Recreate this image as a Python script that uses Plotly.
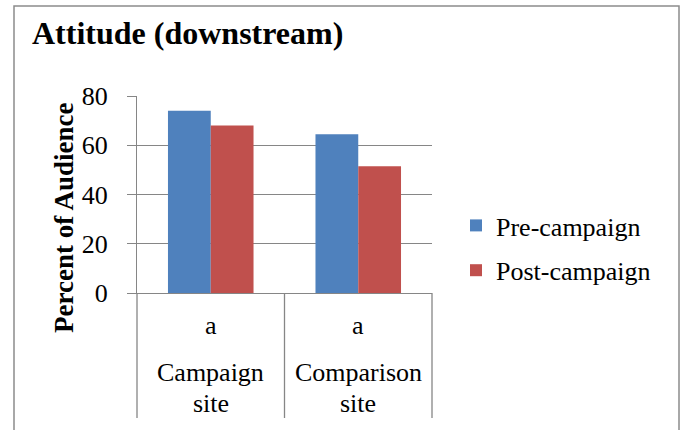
import plotly.graph_objects as go

# ---- data ----
categories = ["Campaign site", "Comparison site"]
sig_labels = ["a", "a"]
series_names = ["Pre-campaign", "Post-campaign"]
pre_values = [74, 64.5]
post_values = [68, 51.5]
y_ticks = [0, 20, 40, 60, 80]

# ---- layout geometry ----
W, H = 685, 430
L, R, T, B = 137, 253, 96, 137
PW, PH = W - L - R, H - T - B

def px_x(px):
    return (px - L) / PW

def px_y(py):
    return (H - B - py) / PH

FONT = "Liberation Serif"
BLUE = "#4F81BD"
RED = "#C0504D"
GRID = "#868686"

fig = go.Figure()
fig.add_trace(go.Bar(x=categories, y=pre_values, name=series_names[0],
                     marker=dict(color=BLUE, line=dict(width=0)),
                     legendgroup="g1"))
fig.add_trace(go.Bar(x=categories, y=post_values, name=series_names[1],
                     marker=dict(color=RED, line=dict(width=0)),
                     legendgroup="g2"))

fig.update_layout(
    width=W, height=H,
    margin=dict(l=L, r=R, t=T, b=B, pad=0),
    paper_bgcolor="white", plot_bgcolor="white",
    font=dict(family=FONT, size=26, color="black"),
    barmode="group", bargap=0.42, bargroupgap=0,
    showlegend=True,
    legend=dict(x=px_x(456), y=px_y(202), xanchor="left", yanchor="top",
                font=dict(family=FONT, size=26, color="black"),
                tracegroupgap=8, traceorder="grouped",
                bgcolor="rgba(0,0,0,0)"),
    title=dict(text="<b>Attitude (downstream)</b>",
               font=dict(family=FONT, size=32, color="black"),
               xref="container", yref="container",
               x=32 / W, xanchor="left", y=1 - 33 / H, yanchor="middle"),
)

fig.update_yaxes(range=[0, 80], tickvals=y_ticks, showgrid=True,
                 gridcolor=GRID, gridwidth=1.3,
                 showline=True, linecolor=GRID, linewidth=1.3,
                 ticks="outside", ticklen=9, tickcolor=GRID, tickwidth=1.3,
                 ticklabelstandoff=14,
                 tickfont=dict(family=FONT, size=26, color="black"),
                 zeroline=False, fixedrange=True)
fig.update_xaxes(showticklabels=False, showline=True, linecolor=GRID,
                 linewidth=1.3, ticks="", showgrid=False, fixedrange=True)

# y-axis title
fig.add_annotation(text="<b>Percent of Audience</b>", textangle=-90,
                   xref="paper", yref="paper", x=px_x(64), y=px_y(218),
                   xanchor="center", yanchor="middle", showarrow=False,
                   font=dict(family=FONT, size=27, color="black"))

# category divider lines (Excel-style tick marks)
n = len(categories)
for i in range(n + 1):
    fig.add_shape(type="line", xref="paper", yref="paper",
                  x0=i / n, x1=i / n, y0=0, y1=px_y(418),
                  line=dict(color=GRID, width=1.3))

# category labels
for i, (cat, sig) in enumerate(zip(categories, sig_labels)):
    fig.add_annotation(text=sig, xref="x", yref="paper", x=cat, y=px_y(325),
                       showarrow=False, yanchor="middle",
                       font=dict(family=FONT, size=26, color="black"))
    words = cat.split(" ")
    for j, w in enumerate(words):
        fig.add_annotation(text=w, xref="x", yref="paper", x=cat,
                           y=px_y(372 + 31 * j), showarrow=False,
                           yanchor="middle",
                           font=dict(family=FONT, size=26, color="black"))

# outer chart border
fig.add_shape(type="rect", xref="paper", yref="paper",
              x0=px_x(14), x1=px_x(679), y0=px_y(440), y1=px_y(6),
              line=dict(color="#8C8C8C", width=1.5), layer="below")

fig.write_html("out.html",
               config={"displayModeBar": False, "staticPlot": False},
               post_script="document.body.style.margin='0';")
